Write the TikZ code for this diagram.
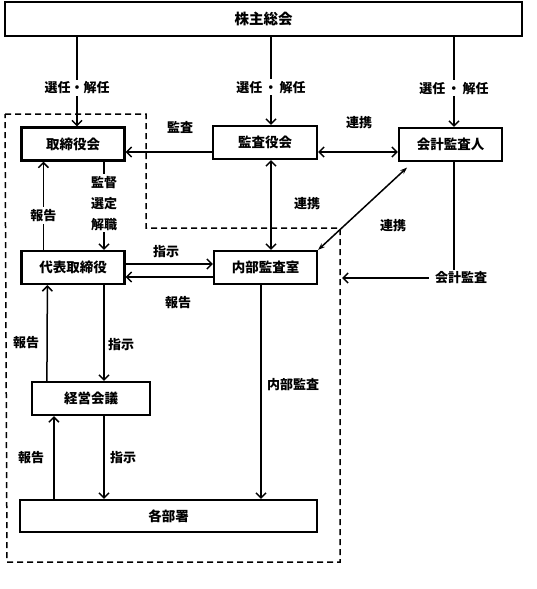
\documentclass[tikz,border=0pt]{standalone}
\usepackage{fontspec}
\setmainfont{Noto Sans CJK JP}
\usetikzlibrary{positioning, arrows.meta}

\begin{document}
\begin{tikzpicture}[
    x=1pt, y=-1pt,
    >={Straight Barb[length=5pt,width=10pt]},
    box/.style={
        rectangle,
        draw,
        line width=2.2pt,
        minimum width=103pt,
        minimum height=33pt,
        inner sep=0pt,
        font=\fontsize{13.5}{15}\selectfont\bfseries
    },
    lbl/.style={
        inner sep=2pt,
        font=\fontsize{13}{21}\selectfont\bfseries,
        align=center
    },
    cutlbl/.style={lbl, fill=white},
    arrow/.style={->, line width=1.5pt},
    line/.style={line width=1.5pt},
    dbl/.style={<->, line width=1.5pt},
    diag/.style={{Stealth[length=7pt,width=5pt]}-{Stealth[length=7pt,width=5pt]}, line width=1.5pt}
]
\useasboundingbox (0,0) rectangle (536,589);

% Columns and rows
\coordinate (c1) at (77,0);
\coordinate (c2) at (271,0);
\coordinate (c3) at (454,0);
\coordinate (c4) at (104,0);
\coordinate (r1) at (0,152);
\coordinate (r2) at (0,264);
\coordinate (r3) at (0,277);

% Top
\node[box, minimum width=517pt, minimum height=34pt,
      font=\fontsize{14.5}{16}\selectfont\bfseries] (gm) at (263.5,19) {株主総会};

% Boards
\node[box] (board) at (73,144) {取締役会};
\node[box, minimum width=104pt] (kansa) at (265,142.5) {監査役会};
\node[box] (acct) at (450.5,144.5) {会計監査人};

% Executive
\node[box] (ceo) at (73,267.5) {代表取締役};
\node[box] (audit) at (265.5,267.5) {内部監査室};
\node[box, minimum width=118pt] (mtg) at (91,398.5) {経営会議};
\node[box, minimum width=297pt, minimum height=32pt] (depts) at (168.5,516) {各部署};

% Dashed boundary
\draw[line, dashed, dash pattern=on 6pt off 4pt]
    (5,114) -- (146,114) -- (146,228) -- (340,228) coordinate (dashR)
    -- (340,562) -- (7,562) -- cycle;

% Arrows
\draw[arrow] (gm.south -| c1) -- node[cutlbl, pos=0.57] {選任・解任} (board.north -| c1);
\draw[arrow] (gm.south -| c2) -- node[cutlbl, pos=0.57] {選任\,・\,解任} (kansa.north -| c2);
\draw[arrow] (gm.south -| c3) -- node[cutlbl, pos=0.57] {選任\,・\,解任} (acct.north -| c3);

\draw[arrow] (kansa.west |- r1) -- (board.east |- r1);
\draw[dbl] (kansa.east |- r1) -- (acct.west |- r1);
\draw[dbl] (kansa.south -| c2) -- (audit.north -| c2);
\draw[diag, shorten >=8pt] (audit.north east) -- ([xshift=15pt]acct.south west);

\draw[arrow] (board.south -| c4) -- node[cutlbl, pos=0.47] {監督\\選定\\解職} (ceo.north -| c4);
\draw[arrow] ([xshift=23pt]ceo.north west) -- node[cutlbl, pos=0.39] {報告} ([xshift=23pt]board.south west);

\draw[arrow] (ceo.east |- r2) -- (audit.west |- r2);
\draw[arrow] (audit.west |- r3) -- (ceo.east |- r3);

\node[lbl] (acctlbl) at (461,278) {会計監査};
\draw[line] (acct.south -| c3) -- (acctlbl.north -| c3);
\draw[arrow, shorten >=2pt] ([xshift=-4pt]acctlbl.west) -- (acctlbl.west -| dashR);

\draw[arrow] (ceo.south -| c4) -- (mtg.north -| c4);
\draw[arrow] ([xshift=16pt]mtg.north west) -- ([xshift=27pt]ceo.south west);
\draw[arrow] (mtg.south -| c4) -- (depts.north -| c4);
\draw[arrow] ([xshift=35pt]depts.north west) -- ([xshift=23pt]mtg.south west);
\draw[arrow] ([xshift=-4.5pt]audit.south) -- ([xshift=-4.5pt]audit.south |- depts.north);

% Labels
\node[lbl] (l-kansa) at (180,127) {監査};
\node[lbl] (l-renkei1) at (359,123) {連携};
\node[lbl] (l-renkei2) at (307,204) {連携};
\node[lbl] (l-renkei3) at (393,226) {連携};
\node[lbl] (l-shiji1) at (166,252) {指示};
\node[lbl] (l-hokoku1) at (178,303) {報告};
\node[lbl] (l-shiji2) at (121,345) {指示};
\node[lbl] (l-hokoku2) at (26,343) {報告};
\node[lbl] (l-shiji3) at (123,458) {指示};
\node[lbl] (l-hokoku3) at (31,458) {報告};
\node[lbl] (l-naibu) at (293,385) {内部監査};

\end{tikzpicture}
\end{document}
